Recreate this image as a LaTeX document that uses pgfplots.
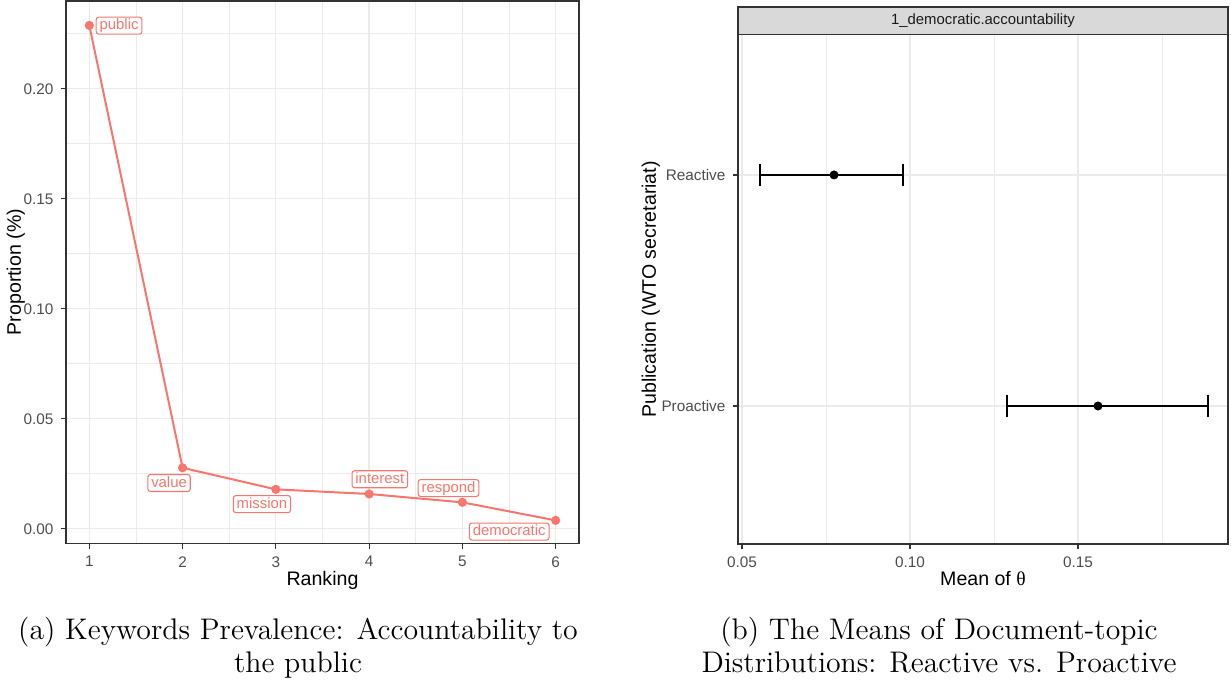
\documentclass[border=0pt]{standalone}
\usepackage{pgfplots}
\pgfplotsset{compat=1.18}
\usepackage{fontspec}
\newfontfamily\ggf{Liberation Sans}
\newfontfamily\ggs{Liberation Serif}
\definecolor{salmon}{HTML}{F8766D}
\definecolor{gridc}{HTML}{EBEBEB}
\definecolor{borderc}{HTML}{333333}
\definecolor{ticktxt}{HTML}{4D4D4D}
\definecolor{stripfill}{HTML}{D9D9D9}
\definecolor{striptxt}{HTML}{1A1A1A}
\tikzset{lbl/.style={draw=salmon, fill=white, text=salmon, rounded corners=1.2pt,
    font=\ggf\fontsize{7}{8}\selectfont, inner xsep=1.6pt, inner ysep=0.6pt,
    text height=5.3pt, text depth=1.5pt, line width=0.5pt}}
\pgfplotsset{ggbw/.style={
  scale only axis,
  axis line style={borderc, line width=0.55pt},
  tick style={borderc, line width=0.55pt},
  tick align=outside,
  major tick length=2.4pt,
  minor tick length=0pt,
  tick pos=left,
  grid=both,
  major grid style={gridc, line width=0.6pt},
  minor grid style={gridc, line width=0.3pt},
  tick label style={font=\ggf\fontsize{7.2}{8}\selectfont, text=ticktxt},
  /pgf/number format/assume math mode=true,
}}
\begin{document}
\begin{tikzpicture}
\useasboundingbox (0,0) rectangle (578.57pt,-320.07pt);
% ---------------- left panel ----------------
\begin{axis}[ggbw, name=L, at={(31.02pt,-255.54pt)}, anchor=south west,
  width=241.11pt, height=255.07pt,
  xmin=0.75, xmax=6.25, ymin=-0.0068, ymax=0.2399,
  xtick={1,2,3,4,5,6}, ytick={0,0.05,0.1,0.15,0.2},
  minor xtick={1.5,2.5,3.5,4.5,5.5},
  minor ytick={0.025,0.075,0.125,0.175,0.225},
  yticklabel style={/pgf/number format/.cd, fixed, fixed zerofill, precision=2},
  clip mode=individual,
]
\addplot[salmon, line width=0.95pt, mark=*, mark size=1.65pt,
  mark options={fill=salmon, draw=salmon}] coordinates {
  (1,0.2288) (2,0.0277) (3,0.0179) (4,0.0158) (5,0.0120) (6,0.0038)};
\node[lbl] at (axis cs:1.319,0.2287) {public};
\node[lbl] at (axis cs:1.855,0.0208) {value};
\node[lbl] at (axis cs:2.851,0.0112) {mission};
\node[lbl] at (axis cs:4.115,0.0225) {interest};
\node[lbl] at (axis cs:4.851,0.0185) {respond};
\node[lbl] at (axis cs:5.502,-0.0013) {democratic};
\end{axis}
\node[anchor=base, font=\ggf\fontsize{9.2}{11}\selectfont] at ([yshift=-19.65pt]L.south) {Ranking};
\node[anchor=base, rotate=90, font=\ggf\fontsize{9.2}{11}\selectfont] at (9.87pt,-127.9pt) {Proportion (\%)};
% ---------------- right panel ----------------
\begin{axis}[ggbw, name=R, at={(346.86pt,-255.68pt)}, anchor=south west,
  width=230.3pt, height=239.37pt,
  xmin=0.04881, xmax=0.19464, ymin=0.4026, ymax=2.607,
  xtick={0.05,0.1,0.15}, minor xtick={0.075,0.125,0.175},
  ytick={1,2}, yticklabels={Proactive,Reactive},
  xticklabel style={/pgf/number format/.cd, fixed, fixed zerofill, precision=2},
]
\addplot[black, only marks, mark=*, mark size=1.9pt,
  error bars/.cd, x dir=both, x explicit, error mark=|,
  error bar style={black, line width=0.9pt},
  error mark options={black, line width=0.9pt, mark size=5.17pt}]
  coordinates {
  (0.07738,2) += (0.02054,0) -= (0.02202,0)
  (0.15595,1) += (0.03274,0) -= (0.02708,0)};
\end{axis}
\draw[borderc, fill=stripfill, line width=0.55pt] (R.north west) rectangle ([yshift=13.02pt]R.north east);
\node[font=\ggf\fontsize{7}{8}\selectfont, text=striptxt] at ([yshift=6.51pt]R.north) {1\_democratic.accountability};
\node[anchor=base, font=\ggf\fontsize{9.2}{11}\selectfont] at ([yshift=-19.65pt]R.south) {Mean of {\ggs θ}};
\node[anchor=base, rotate=90, font=\ggf\fontsize{9.2}{11}\selectfont] at (308.3pt,-136.0pt) {Publication (WTO secretariat)};
% ---------------- captions ----------------
\node[anchor=base, font=\fontsize{14}{16}\selectfont] at (140.06pt,-300.8pt) {(a) Keywords Prevalence: Accountability to};
\node[anchor=base, font=\fontsize{14}{16}\selectfont] at (140.06pt,-316.2pt) {the public};
\node[anchor=base, font=\fontsize{14}{16}\selectfont] at (441.33pt,-300.8pt) {(b) The Means of Document-topic};
\node[anchor=base, font=\fontsize{14}{16}\selectfont] at (441.33pt,-316.2pt) {Distributions: Reactive vs. Proactive};
\end{tikzpicture}
\end{document}
